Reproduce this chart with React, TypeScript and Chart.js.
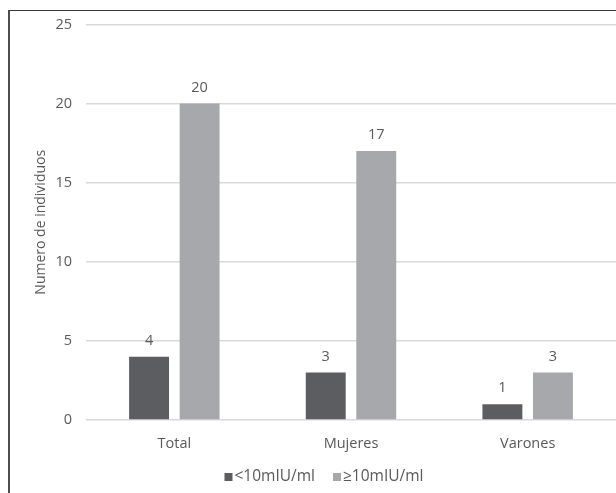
import React, { useEffect, useRef } from "react";
import { Chart, registerables } from "chart.js";

Chart.register(...registerables);

const categories = ["Total", "Mujeres", "Varones"];
const seriesLabels = ["<10mIU/ml", "≥10mIU/ml"];
const below10 = [4, 3, 1];
const above10 = [20, 17, 3];
const yTicks = [0, 5, 10, 15, 20, 25];
const yTitle = "Numero de individuos";

const FONT = "'Open Sans', sans-serif";
const TEXT = "#595959";
const COLORS = ["#5c5d61", "#a6a8ab"];

const valueLabels = {
  id: "valueLabels",
  afterDatasetsDraw(chart: any) {
    const ctx = chart.ctx;
    ctx.save();
    ctx.font = `14.5px ${FONT}`;
    ctx.fillStyle = TEXT;
    ctx.textAlign = "center";
    ctx.textBaseline = "alphabetic";
    chart.data.datasets.forEach((ds: any, di: number) => {
      const meta = chart.getDatasetMeta(di);
      meta.data.forEach((bar: any, i: number) => {
        ctx.fillText(String(ds.data[i]), bar.x, bar.y - 12);
      });
    });
    ctx.restore();
  },
};

const customLegend = {
  id: "customLegend",
  afterDraw(chart: any) {
    const ctx = chart.ctx;
    ctx.save();
    ctx.font = `15.5px ${FONT}`;
    ctx.textBaseline = "middle";
    ctx.textAlign = "left";
    const box = 8;
    const gapText = 2;
    const gapItem = 18;
    const items = chart.data.datasets.map((ds: any) => ({
      label: ds.label,
      color: ds.backgroundColor,
      w: box + gapText + ctx.measureText(ds.label).width,
    }));
    const total = items.reduce((a: number, it: any) => a + it.w, 0) + gapItem * (items.length - 1);
    let x = 316 - total / 2;
    const y = 467;
    items.forEach((it: any) => {
      ctx.fillStyle = it.color;
      ctx.fillRect(x, y - box / 2, box, box);
      ctx.fillStyle = TEXT;
      ctx.fillText(it.label, x + box + gapText, y);
      x += it.w + gapItem;
    });
    ctx.restore();
  },
};

export default function App() {
  const ref = useRef<HTMLCanvasElement>(null);
  useEffect(() => {
    const chart = new Chart(ref.current!, {
      type: "bar",
      data: {
        labels: categories,
        datasets: [
          {
            label: seriesLabels[0],
            data: below10,
            backgroundColor: COLORS[0],
            borderWidth: 0,
          },
          {
            label: seriesLabels[1],
            data: above10,
            backgroundColor: COLORS[1],
            borderWidth: 0,
          },
        ],
      },
      plugins: [valueLabels, customLegend],
      options: {
        animation: false,
        responsive: false,
        maintainAspectRatio: false,
        datasets: {
          bar: { categoryPercentage: 0.572, barPercentage: 0.79 },
        },
        layout: { padding: { top: 0, left: 0, right: 0, bottom: 33 } },
        scales: {
          x: {
            grid: { display: false, drawTicks: false },
            border: { display: false },
            ticks: { color: TEXT, font: { family: FONT, size: 14.5 }, padding: 15 },
            afterFit: (s: any) => {
              s.height = 40;
            },
          },
          y: {
            min: 0,
            max: 25,
            afterBuildTicks: (s: any) => {
              s.ticks = yTicks.map((v) => ({ value: v }));
            },
            grid: { color: "#d9d9d9", lineWidth: 1.5, drawTicks: false },
            border: { display: false },
            ticks: { color: TEXT, font: { family: FONT, size: 14.5 }, padding: 14 },
            title: {
              display: true,
              text: yTitle,
              color: TEXT,
              font: { family: FONT, size: 14 },
              padding: { top: 25, bottom: 0 },
            },
            afterFit: (s: any) => {
              s.width = 78;
              s.paddingTop = 14.5;
              s.paddingBottom = 0;
            },
          },
        },
        plugins: {
          legend: { display: false },
          tooltip: { enabled: false },
        },
      },
    });
    return () => chart.destroy();
  }, []);

  return (
    <div
      style={{
        position: "fixed",
        left: 0,
        top: 0,
        width: 616,
        height: 493,
        overflow: "hidden",
        background: "#fff",
      }}
    >
      <div
        style={{
          position: "absolute",
          left: 8,
          top: 10,
          width: 700,
          height: 600,
          borderLeft: "2px solid #4d4d4d",
          borderTop: "1px solid #3a3a3a",
        }}
      />
      <canvas
        ref={ref}
        width={608}
        height={483}
        style={{ position: "absolute", left: 8, top: 10, width: 608, height: 483 }}
      />
    </div>
  );
}
